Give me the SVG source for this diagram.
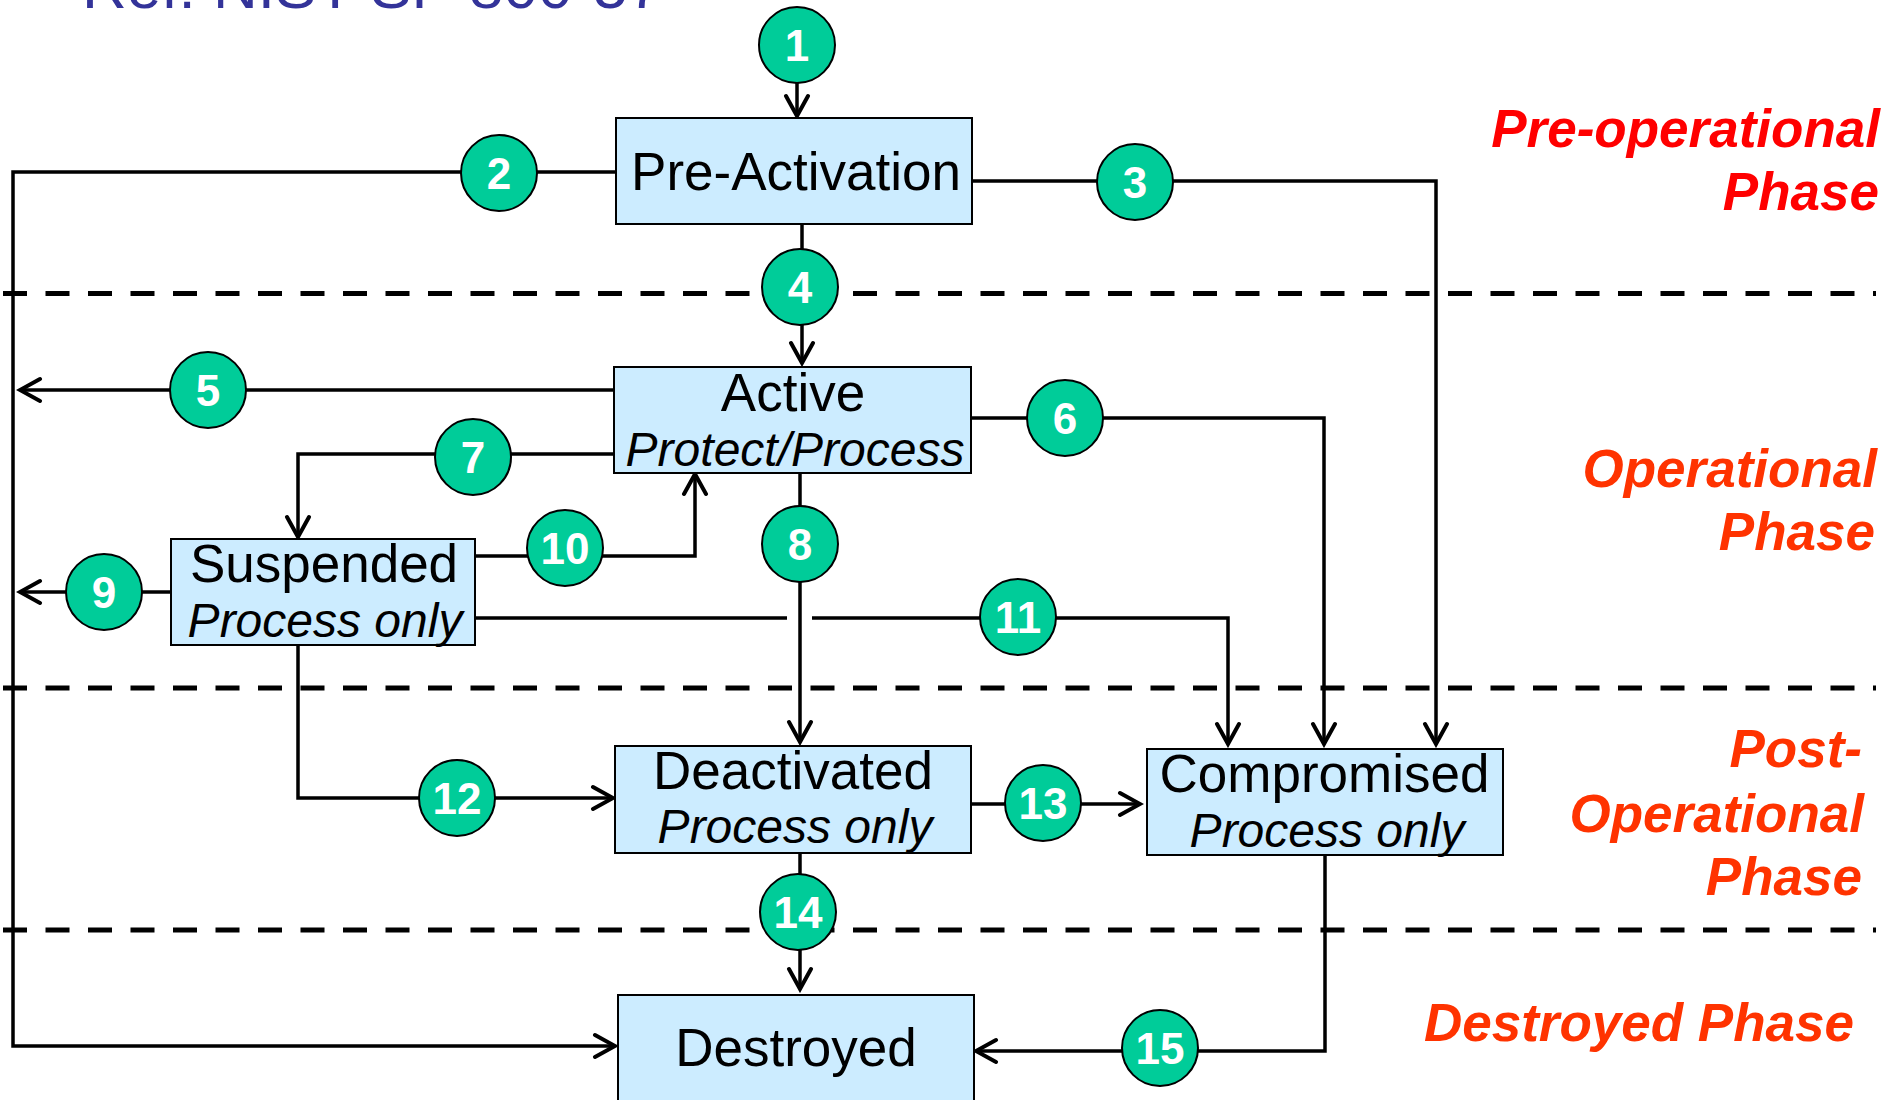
<svg xmlns="http://www.w3.org/2000/svg" width="1887" height="1100" viewBox="0 0 1887 1100">
<defs>
<marker id="arr" viewBox="-24 -14 28 28" refX="0" refY="0" markerWidth="28" markerHeight="28" markerUnits="userSpaceOnUse" orient="auto">
<path d="M-20,-11 L0,0 L-20,11" fill="none" stroke="#000" stroke-width="4" stroke-linecap="round" stroke-linejoin="miter"/>
</marker>
<style>
.box{fill:#CCECFF;stroke:#000;stroke-width:2}
.t1{font-family:"Liberation Sans",Arial,sans-serif;font-size:53px;fill:#000;text-anchor:middle}
.t2{font-family:"Liberation Sans",Arial,sans-serif;font-size:48px;font-style:italic;fill:#000;text-anchor:middle}
.con{fill:none;stroke:#000;stroke-width:3.5;marker-end:url(#arr)}
.dash{stroke:#000;stroke-width:5;stroke-dasharray:24 18.5}
.num circle{fill:#00CC99;stroke:#000;stroke-width:2}
.num text{font-family:"Liberation Sans",Arial,sans-serif;font-size:44px;font-weight:bold;fill:#fff;text-anchor:middle}
.ph{font-family:"Liberation Sans",Arial,sans-serif;font-size:53px;font-weight:bold;font-style:italic;text-anchor:end}
</style>
</defs>
<rect width="1887" height="1100" fill="#fff"/>
<text x="82" y="7.5" font-family="Liberation Sans, Arial, sans-serif" font-size="62" fill="#333399">Ref: NIST SP 800-57</text>
<g id="phase-lines">
<line class="dash" x1="3" y1="293.5" x2="1876" y2="293.5"/>
<line class="dash" x1="3" y1="688" x2="1876" y2="688"/>
<line class="dash" x1="3" y1="930" x2="1876" y2="930"/>
</g>
<g id="phase-labels">
<text class="ph" x="1880" y="147" fill="#FF0000">Pre-operational</text><text class="ph" x="1879" y="210" fill="#FF0000">Phase</text>
<text class="ph" x="1877" y="487" fill="#FF3300">Operational</text><text class="ph" x="1875" y="550" fill="#FF3300">Phase</text>
<text class="ph" x="1862" y="767" fill="#FF3300">Post-</text><text class="ph" x="1864" y="832" fill="#FF3300">Operational</text><text class="ph" x="1862" y="895" fill="#FF3300">Phase</text>
<text class="ph" x="1854" y="1041" fill="#FF3300">Destroyed Phase</text>
</g>
<g id="connectors">
<path class="con" d="M797,83 V116"/>
<path class="con" d="M616,172 H13 V1046 H615"/>
<path class="con" d="M972,181 H1436 V744"/>
<path class="con" d="M802,224 V363"/>
<path class="con" d="M614,390 H20"/>
<path class="con" d="M971,418 H1324 V744"/>
<path class="con" d="M614,454 H298 V537"/>
<path class="con" d="M800,473 V742"/>
<path class="con" d="M171,592 H20"/>
<path class="con" d="M475,556 H695 V474"/>
<path class="con" d="M475,618 H787 M812,618 H1228 V744"/>
<path class="con" d="M298,645 V798 H613"/>
<path class="con" d="M971,804 H1140"/>
<path class="con" d="M800,853 V989"/>
<path class="con" d="M1325,855 V1051 H976"/>
</g>
<g id="n-preactivation"><rect class="box" x="616" y="118" width="356" height="106"/><text class="t1" x="796" y="190">Pre-Activation</text></g>
<g id="n-active"><rect class="box" x="614" y="367" width="357" height="106"/><text class="t1" x="793" y="411">Active</text><text class="t2" x="795" y="466">Protect/Process</text></g>
<g id="n-suspended"><rect class="box" x="171" y="539" width="304" height="106"/><text class="t1" x="324" y="582">Suspended</text><text class="t2" x="325" y="637">Process only</text></g>
<g id="n-deactivated"><rect class="box" x="615" y="746" width="356" height="107"/><text class="t1" x="793" y="789">Deactivated</text><text class="t2" x="795" y="843">Process only</text></g>
<g id="n-compromised"><rect class="box" x="1147" y="749" width="356" height="106"/><text class="t1" x="1324.5" y="792">Compromised</text><text class="t2" x="1327" y="847">Process only</text></g>
<g id="n-destroyed"><rect class="box" x="618" y="995" width="356" height="120"/><text class="t1" x="796" y="1066">Destroyed</text></g>
<g id="labels" class="num">
<g><circle cx="797" cy="45" r="38"/><text x="797" y="61">1</text></g>
<g><circle cx="499" cy="173" r="38"/><text x="499" y="189">2</text></g>
<g><circle cx="1135" cy="182" r="38"/><text x="1135" y="198">3</text></g>
<g><circle cx="800" cy="287" r="38"/><text x="800" y="303">4</text></g>
<g><circle cx="208" cy="390" r="38"/><text x="208" y="406">5</text></g>
<g><circle cx="1065" cy="418" r="38"/><text x="1065" y="434">6</text></g>
<g><circle cx="473" cy="457" r="38"/><text x="473" y="473">7</text></g>
<g><circle cx="800" cy="544" r="38"/><text x="800" y="560">8</text></g>
<g><circle cx="104" cy="592" r="38"/><text x="104" y="608">9</text></g>
<g><circle cx="565" cy="548" r="38"/><text x="565" y="564">10</text></g>
<g><circle cx="1018" cy="617" r="38"/><text x="1018" y="633">11</text></g>
<g><circle cx="457" cy="798" r="38"/><text x="457" y="814">12</text></g>
<g><circle cx="1043" cy="803" r="38"/><text x="1043" y="819">13</text></g>
<g><circle cx="798" cy="912" r="38"/><text x="798" y="928">14</text></g>
<g><circle cx="1160" cy="1048" r="38"/><text x="1160" y="1064">15</text></g>
</g>
</svg>
